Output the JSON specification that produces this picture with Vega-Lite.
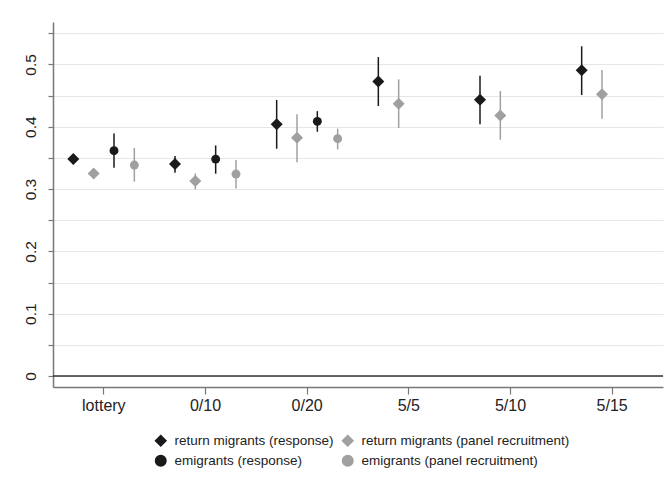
{
  "$schema": "https://vega.github.io/schema/vega-lite/v6.json",
  "width": 610,
  "height": 365,
  "autosize": {"type": "none"},
  "padding": {"left": 53, "top": 22, "right": 4, "bottom": 102},
  "background": "white",
  "config": {
    "font": "Liberation Sans",
    "view": {"stroke": null}
  },
  "data": {
    "values": [
      {"cond": "lottery", "series": "return migrants (response)", "est": 0.348, "lo": 0.340, "hi": 0.355},
      {"cond": "lottery", "series": "return migrants (panel recruitment)", "est": 0.325, "lo": 0.319, "hi": 0.331},
      {"cond": "lottery", "series": "emigrants (response)", "est": 0.3615, "lo": 0.334, "hi": 0.389},
      {"cond": "lottery", "series": "emigrants (panel recruitment)", "est": 0.3385, "lo": 0.312, "hi": 0.366},
      {"cond": "0/10", "series": "return migrants (response)", "est": 0.340, "lo": 0.326, "hi": 0.353},
      {"cond": "0/10", "series": "return migrants (panel recruitment)", "est": 0.313, "lo": 0.2995, "hi": 0.325},
      {"cond": "0/10", "series": "emigrants (response)", "est": 0.348, "lo": 0.3246, "hi": 0.370},
      {"cond": "0/10", "series": "emigrants (panel recruitment)", "est": 0.324, "lo": 0.301, "hi": 0.3465},
      {"cond": "0/20", "series": "return migrants (response)", "est": 0.404, "lo": 0.3647, "hi": 0.443},
      {"cond": "0/20", "series": "return migrants (panel recruitment)", "est": 0.3824, "lo": 0.343, "hi": 0.420},
      {"cond": "0/20", "series": "emigrants (response)", "est": 0.4086, "lo": 0.392, "hi": 0.425},
      {"cond": "0/20", "series": "emigrants (panel recruitment)", "est": 0.3808, "lo": 0.3636, "hi": 0.397},
      {"cond": "5/5", "series": "return migrants (response)", "est": 0.4727, "lo": 0.4332, "hi": 0.5118},
      {"cond": "5/5", "series": "return migrants (panel recruitment)", "est": 0.4369, "lo": 0.3979, "hi": 0.476},
      {"cond": "5/10", "series": "return migrants (response)", "est": 0.4433, "lo": 0.4038, "hi": 0.4818},
      {"cond": "5/10", "series": "return migrants (panel recruitment)", "est": 0.418, "lo": 0.379, "hi": 0.4572},
      {"cond": "5/15", "series": "return migrants (response)", "est": 0.4904, "lo": 0.4508, "hi": 0.529},
      {"cond": "5/15", "series": "return migrants (panel recruitment)", "est": 0.452, "lo": 0.4128, "hi": 0.491}
    ]
  },
  "encoding": {
    "x": {
      "field": "cond",
      "type": "nominal",
      "sort": ["lottery", "0/10", "0/20", "5/5", "5/10", "5/15"],
      "scale": {"domain": ["lottery", "0/10", "0/20", "5/5", "5/10", "5/15"], "paddingInner": 0, "paddingOuter": 0},
      "axis": {
        "title": null,
        "labelAngle": 0,
        "labelFontSize": 16,
        "labelColor": "#222222",
        "labelPadding": 3,
        "tickSize": 7,
        "tickColor": "#777777",
        "domainColor": "#777777",
        "domainWidth": 1.5,
        "tickWidth": 1.2,
        "bandPosition": 0.5,
        "grid": false
      }
    },
    "xOffset": {
      "field": "series",
      "type": "nominal",
      "sort": ["return migrants (response)", "return migrants (panel recruitment)", "emigrants (response)", "emigrants (panel recruitment)"],
      "scale": {"domain": ["return migrants (response)", "return migrants (panel recruitment)", "emigrants (response)", "emigrants (panel recruitment)"], "paddingInner": 0, "paddingOuter": 0.5}
    },
    "y": {
      "field": "est",
      "type": "quantitative",
      "scale": {"domain": [-0.0176, 0.568], "nice": false, "zero": false},
      "axis": {
        "title": null,
        "values": [0, 0.05, 0.1, 0.15, 0.2, 0.25, 0.3, 0.35, 0.4, 0.45, 0.5, 0.55],
        "format": ".1~f",
        "labelExpr": "round(datum.value*100) % 10 == 0 ? datum.label : ''",
        "labelAngle": -90,
        "labelFontSize": 15.5,
        "labelColor": "#222222",
        "labelPadding": 10,
        "tickSize": 5,
        "tickColor": "#777777",
        "domainColor": "#777777",
        "domainWidth": 1.5,
        "tickWidth": 1.2,
        "grid": true,
        "gridColor": "#e6e6e6",
        "gridWidth": 1.2
      }
    },
    "color": {
      "field": "series",
      "type": "nominal",
      "scale": {
        "domain": ["return migrants (response)", "emigrants (response)", "return migrants (panel recruitment)", "emigrants (panel recruitment)"],
        "range": ["#1a1a1a", "#1a1a1a", "#a0a0a0", "#a0a0a0"]
      },
      "legend": {
        "title": null,
        "orient": "none",
        "legendX": 101,
        "legendY": 412,
        "columns": 2,
        "labelFontSize": 13.5,
        "labelColor": "#222222",
        "labelLimit": 400,
        "labelOffset": 7,
        "columnPadding": 5,
        "rowPadding": 3,
        "symbolSize": 110,
        "padding": 0
      }
    },
    "shape": {
      "field": "series",
      "type": "nominal",
      "scale": {
        "domain": ["return migrants (response)", "emigrants (response)", "return migrants (panel recruitment)", "emigrants (panel recruitment)"],
        "range": ["diamond", "circle", "diamond", "circle"]
      }
    }
  },
  "layer": [
    {
      "transform": [{"filter": "indexof(datum.series, 'return') == 0"}],
      "mark": {"type": "point", "filled": true, "opacity": 1, "size": 144}
    },
    {
      "transform": [{"filter": "indexof(datum.series, 'return') != 0"}],
      "mark": {"type": "point", "filled": true, "opacity": 1, "size": 80}
    },
    {
      "mark": {"type": "rule", "strokeWidth": 1.5},
      "encoding": {
        "y": {"field": "lo", "type": "quantitative"},
        "y2": {"field": "hi"},
        "shape": null
      }
    },
    {
      "data": {"values": [{"v": 0}]},
      "mark": {"type": "rule", "color": "#333333", "strokeWidth": 1.5},
      "encoding": {
        "y": {"field": "v", "type": "quantitative"},
        "x": null,
        "xOffset": null,
        "color": null,
        "shape": null
      }
    }
  ]
}
